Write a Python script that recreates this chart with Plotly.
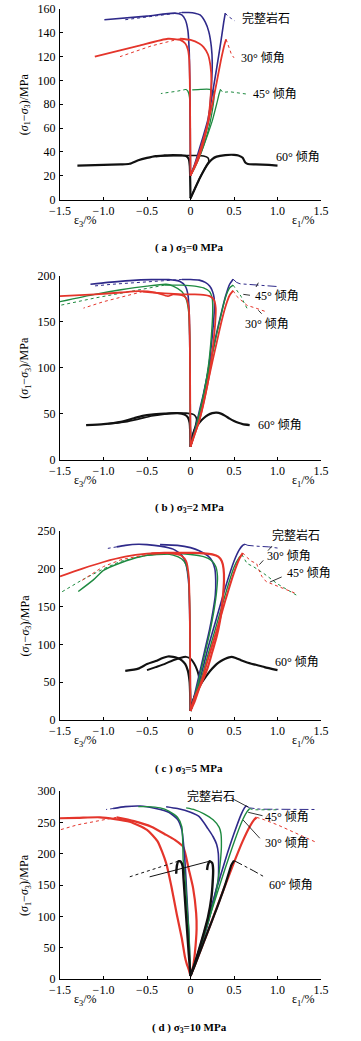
import plotly.graph_objects as go

# ---------------- data: panel (a) sigma3 = 0 MPa ----------------
A_INT_E1_X = [0, 0.05, 0.1, 0.15, 0.2, 0.25, 0.3, 0.35, 0.38, 0.4]
A_INT_E1_Y = [20, 30, 42, 54, 67, 88, 110, 133, 148, 156.5]
A_INT_E1T_X = [0.4, 0.43, 0.47, 0.51]
A_INT_E1T_Y = [156.5, 154, 152, 150]
A_INT_E3_X = [0, -0.003, -0.008, -0.015, -0.03, -0.06, -0.1, -0.18, -0.5, -0.99]
A_INT_E3_Y = [20, 60, 100, 125, 142, 151, 155, 156.5, 154, 151]
A_INT_EV_X = [0, 0.1, 0.17, 0.21, 0.24, 0.25, 0.24, 0.21, 0.17, 0.11, 0.05, -0.02, -0.1]
A_INT_EV_Y = [20, 38, 55, 67, 95, 115, 128, 141, 149, 155, 156.5, 157, 157]
A_INT_EVT_X = [-0.1, -0.4, -0.75]
A_INT_EVT_Y = [157, 154.5, 151]

A_R30_E1_X = [0, 0.05, 0.1, 0.15, 0.2, 0.25, 0.3, 0.35, 0.39, 0.41]
A_R30_E1_Y = [20, 29, 39, 51, 64, 80, 98, 117, 130, 134.5]
A_R30_E1T_X = [0.41, 0.44, 0.47, 0.5]
A_R30_E1T_Y = [134.5, 128, 122, 119]
A_R30_E3_X = [0, -0.003, -0.008, -0.015, -0.03, -0.06, -0.12, -0.26, -0.6, -1.1]
A_R30_E3_Y = [20, 60, 100, 118, 126, 131, 134, 135, 129, 120]
A_R30_EV_X = [0, 0.08, 0.15, 0.2, 0.23, 0.24, 0.23, 0.2, 0.15, 0.1, 0.0, -0.12]
A_R30_EV_Y = [20, 32, 48, 65, 85, 100, 112, 122, 128, 131, 134, 135]
A_R30_EVT_X = [-0.12, -0.45, -0.81]
A_R30_EVT_Y = [135, 129, 120]

A_G45_E1_X = [0, 0.05, 0.1, 0.15, 0.2, 0.25, 0.3, 0.33, 0.345]
A_G45_E1_Y = [20, 28, 36, 45, 55, 66, 80, 89, 92.5]
A_G45_E1T_X = [0.345, 0.37, 0.45, 0.55, 0.65]
A_G45_E1T_Y = [92.5, 90, 90.5, 89.5, 88.5]
A_G45_E3_X = [0, -0.002, -0.005, -0.012, -0.03, -0.05]
A_G45_E3_Y = [20, 50, 75, 86, 91, 92.5]
A_G45_E3T_X = [-0.05, -0.15, -0.34]
A_G45_E3T_Y = [92.5, 91, 89]
A_G45_EV_X = [0, 0.05, 0.1, 0.15, 0.2, 0.24, 0.27, 0.26, 0.22, 0.12, 0.02]
A_G45_EV_Y = [20, 27, 35, 45, 57, 70, 86, 91, 92.5, 92.5, 92]

A_B60_E1_X = [0, 0.05, 0.1, 0.15, 0.2, 0.25, 0.3, 0.4, 0.5, 0.55, 0.6, 0.63, 0.66, 0.75, 0.9, 1.0]
A_B60_E1_Y = [1, 9, 17, 24, 30, 34, 36, 37.3, 37.5, 37, 35, 31, 29.8, 29.5, 29, 28.5]
A_B60_E3_X = [0, -0.003, -0.008, -0.02, -0.05, -0.1, -0.2, -0.3, -0.4, -0.5, -0.6, -0.7, -0.8, -1.0, -1.3]
A_B60_E3_Y = [1, 15, 28, 34, 36.5, 37, 37.3, 37, 36.5, 35, 33, 30, 29.5, 29, 28.5]
A_B60_EV_X = [0, 0.05, 0.1, 0.15, 0.19, 0.21, 0.2, 0.15, 0.08, 0, -0.1, -0.25, -0.4]
A_B60_EV_Y = [1, 9, 17, 24, 29, 32, 35, 36.5, 37, 37, 37, 36.8, 36]

# ---------------- data: panel (b) sigma3 = 2 MPa ----------------
B_INT_E1_X = [0, 0.05, 0.1, 0.15, 0.2, 0.25, 0.3, 0.35, 0.4, 0.45, 0.49]
B_INT_E1_Y = [14, 32, 52, 72, 95, 117, 138, 158, 177, 191, 196.5]
B_INT_E1T_X = [0.49, 0.53, 0.57, 0.7, 0.85, 1.0]
B_INT_E1T_Y = [196.5, 193, 191.5, 190.5, 189.5, 188.5]
B_INT_E3_X = [0, -0.003, -0.008, -0.015, -0.03, -0.06, -0.12, -0.25, -0.45, -0.7, -0.95, -1.15]
B_INT_E3_Y = [14, 60, 120, 160, 180, 189, 194, 196, 196, 195, 193, 191]
B_INT_EV_X = [0, 0.08, 0.15, 0.2, 0.24, 0.265, 0.275, 0.27, 0.25, 0.22, 0.17, 0.1, 0.0, -0.1]
B_INT_EV_Y = [14, 40, 70, 95, 125, 150, 165, 177, 184, 189, 193, 195.5, 196.2, 196.2]
B_INT_EVT_X = [-0.1, -0.5, -0.9, -1.12]
B_INT_EVT_Y = [196.2, 194, 191, 189]

B_R30_E1_X = [0, 0.05, 0.1, 0.15, 0.2, 0.25, 0.3, 0.35, 0.4, 0.45, 0.49]
B_R30_E1_Y = [14, 28, 42, 62, 84, 106, 127, 148, 166, 179, 184]
B_R30_E1T_X = [0.49, 0.53, 0.6, 0.65, 0.75, 0.87]
B_R30_E1T_Y = [184, 178, 172, 168, 165, 161]
B_R30_E3_X = [0, -0.003, -0.008, -0.02, -0.05, -0.1, -0.2, -0.26, -0.4, -0.6, -0.8, -1.1, -1.5]
B_R30_E3_Y = [14, 60, 130, 165, 176, 179, 180, 178, 182, 183.5, 182, 180, 178]
B_R30_EV_X = [0, 0.05, 0.1, 0.16, 0.22, 0.26, 0.285, 0.29, 0.27, 0.22, 0.15, 0.05, -0.1, -0.3, -0.55]
B_R30_EV_Y = [14, 28, 42, 65, 95, 125, 150, 165, 174, 178, 179.5, 180, 180, 181, 183]
B_R30_EVT_X = [-0.55, -0.8, -1.0, -1.23]
B_R30_EVT_Y = [183, 177, 172, 165]

B_G45_E1_X = [0, 0.05, 0.1, 0.15, 0.2, 0.25, 0.3, 0.35, 0.4, 0.45, 0.49]
B_G45_E1_Y = [14, 30, 50, 70, 92, 114, 136, 157, 176, 187, 190]
B_G45_E1T_X = [0.49, 0.53, 0.58, 0.62, 0.66]
B_G45_E1T_Y = [190, 184, 178, 170, 163]
B_G45_E3_X = [0, -0.003, -0.008, -0.02, -0.05, -0.1, -0.2, -0.28, -0.5, -0.8, -1.1, -1.5]
B_G45_E3_Y = [14, 60, 130, 160, 175, 183, 189, 191, 189, 185, 180, 172]
B_G45_EV_X = [0, 0.05, 0.1, 0.16, 0.21, 0.24, 0.255, 0.25, 0.22, 0.15, 0.05, -0.1, -0.3]
B_G45_EV_Y = [14, 30, 48, 75, 105, 135, 160, 175, 183, 187, 189, 190, 190]
B_G45_EVT_X = [-0.3, -0.7, -1.1, -1.5]
B_G45_EVT_Y = [190, 183, 176, 168]

B_B60_E1_X = [0, 0.02, 0.05, 0.1, 0.15, 0.2, 0.25, 0.3, 0.35, 0.4, 0.45, 0.5, 0.55, 0.6, 0.68]
B_B60_E1_Y = [14, 24, 33, 40, 45, 48.5, 50.5, 51, 50, 47.5, 44.5, 42, 40, 38.5, 37.5]
B_B60_E3_X = [0, -0.003, -0.01, -0.03, -0.07, -0.15, -0.3, -0.45, -0.55, -0.65, -0.8, -1.0, -1.2]
B_B60_E3_Y = [14, 28, 40, 46, 49, 50.5, 50, 49, 47.5, 45, 41, 38.5, 37.5]
B_B60_EV_X = [0, 0.03, 0.06, 0.07, 0.05, 0.02, -0.05, -0.15, -0.3, -0.45, -0.6, -0.75, -0.95]
B_B60_EV_Y = [14, 28, 38, 44, 48, 49.5, 50.5, 50.5, 49.5, 47.5, 44, 41, 39]

# ---------------- data: panel (c) sigma3 = 5 MPa ----------------
C_INT_E1_X = [0, 0.05, 0.1, 0.15, 0.2, 0.3, 0.4, 0.5, 0.56, 0.6, 0.625]
C_INT_E1_Y = [12, 30, 50, 72, 95, 135, 175, 210, 225, 231, 232.5]
C_INT_E1T_X = [0.625, 0.66, 0.75, 0.9, 1.03]
C_INT_E1T_Y = [232.5, 231, 230, 229, 227]
C_INT_E3_X = [0, -0.003, -0.008, -0.02, -0.05, -0.1, -0.2, -0.35, -0.5, -0.6, -0.75, -0.85]
C_INT_E3_Y = [12, 60, 130, 180, 205, 218, 226, 230, 232, 232.5, 231, 229]
C_INT_E3T_X = [-0.85, -0.95]
C_INT_E3T_Y = [229, 227]
C_INT_EV_X = [0, 0.05, 0.1, 0.16, 0.22, 0.26, 0.285, 0.29, 0.28, 0.25, 0.2, 0.1, 0, -0.15, -0.35]
C_INT_EV_Y = [12, 35, 60, 90, 120, 145, 165, 185, 200, 210, 217, 224, 228, 231, 232]

C_R30_E1_X = [0, 0.05, 0.1, 0.15, 0.2, 0.3, 0.4, 0.5, 0.56, 0.6]
C_R30_E1_Y = [12, 25, 42, 60, 80, 118, 158, 195, 213, 221]
C_R30_E1T_X = [0.6, 0.64, 0.7, 0.76, 0.78, 0.82, 0.87, 1.0, 1.22]
C_R30_E1T_Y = [221, 216, 210, 207, 200, 190, 183, 177, 167]
C_R30_E3_X = [0, -0.003, -0.008, -0.02, -0.05, -0.1, -0.2, -0.35, -0.5, -0.75, -1.0, -1.25, -1.5]
C_R30_E3_Y = [12, 60, 140, 190, 210, 217, 220, 221, 220, 216, 209, 200, 190]
C_R30_EV_X = [0, 0.05, 0.13, 0.2, 0.25, 0.3, 0.34, 0.37, 0.385, 0.38, 0.36, 0.32, 0.25, 0.15, 0.05, -0.1, -0.3, -0.45]
C_R30_EV_Y = [12, 30, 50, 70, 90, 110, 132, 160, 185, 200, 210, 216, 219, 220.5, 221, 221, 221, 220]
C_R30_EVT_X = [-0.45, -0.8, -1.0, -1.27]
C_R30_EVT_Y = [220, 212, 203, 183]

C_G45_E1_X = [0, 0.05, 0.1, 0.15, 0.2, 0.3, 0.4, 0.5, 0.56, 0.59]
C_G45_E1_Y = [12, 28, 46, 65, 86, 126, 166, 202, 215, 219]
C_G45_E1T_X = [0.59, 0.62, 0.65, 0.72, 0.84, 1.0, 1.22]
C_G45_E1T_Y = [219, 213, 207, 203, 194, 180, 165]
C_G45_E3_X = [0, -0.003, -0.008, -0.02, -0.05, -0.1, -0.2, -0.35, -0.58, -0.8, -1.0, -1.12, -1.29]
C_G45_E3_Y = [12, 60, 140, 185, 205, 213, 218, 220, 216, 208, 198, 185, 170]
C_G45_EV_X = [0, 0.05, 0.1, 0.16, 0.22, 0.27, 0.3, 0.31, 0.29, 0.24, 0.15, 0.0, -0.2, -0.5]
C_G45_EV_Y = [12, 32, 55, 85, 115, 145, 170, 190, 203, 211, 216, 219, 220, 218]
C_G45_EVT_X = [-0.5, -0.8, -1.0, -1.25, -1.5]
C_G45_EVT_Y = [218, 210, 200, 185, 168]

C_B60_E1_X = [0, 0.02, 0.05, 0.1, 0.15, 0.2, 0.25, 0.3, 0.35, 0.4, 0.47, 0.52, 0.58, 0.65, 0.75, 0.85, 1.0]
C_B60_E1_Y = [12, 22, 32, 44, 53, 61, 68, 74, 78, 81, 83.5, 82, 79, 76, 73, 70, 66]
C_B60_E3_X = [0, -0.003, -0.01, -0.03, -0.06, -0.1, -0.15, -0.2, -0.26, -0.32, -0.4, -0.5, -0.6, -0.75]
C_B60_E3_Y = [12, 30, 50, 65, 74, 79, 82, 83.5, 84, 82, 78, 74, 68, 65]
C_B60_EV_X = [0, 0.03, 0.07, 0.1, 0.1, 0.08, 0.04, 0, -0.05, -0.12, -0.2, -0.3, -0.4, -0.5]
C_B60_EV_Y = [12, 25, 38, 46, 55, 65, 75, 81, 83.5, 82, 79, 74, 70, 66]

# ---------------- data: panel (d) sigma3 = 10 MPa ----------------
D_INT_E1_X = [0, 0.05, 0.1, 0.15, 0.2, 0.3, 0.4, 0.5, 0.58, 0.62, 0.64]
D_INT_E1_Y = [5, 25, 48, 72, 96, 144, 190, 232, 262, 273, 276.5]
D_INT_E1T_X = [0.64, 0.68, 0.8, 1.0, 1.2, 1.43]
D_INT_E1T_Y = [276.5, 273, 271, 271, 270.5, 270.5]
D_INT_E3_X = [0, -0.01, -0.025, -0.045, -0.06, -0.08, -0.1, -0.15, -0.25, -0.4, -0.58, -0.75, -0.89]
D_INT_E3_Y = [5, 40, 90, 140, 180, 215, 238, 255, 266, 272, 276, 275, 272]
D_INT_E3T_X = [-0.89, -0.97]
D_INT_E3T_Y = [272, 270.5]
D_INT_EV_X = [0, 0.06, 0.12, 0.18, 0.24, 0.29, 0.32, 0.32, 0.3, 0.26, 0.2, 0.1, 0, -0.15, -0.28]
D_INT_EV_Y = [5, 30, 55, 78, 110, 140, 160, 200, 215, 227, 240, 259, 266, 272, 275]

D_G45_E1_X = [0, 0.05, 0.1, 0.15, 0.2, 0.3, 0.4, 0.5, 0.6, 0.65, 0.68]
D_G45_E1_Y = [5, 24, 46, 68, 90, 134, 177, 218, 254, 267, 272]
D_G45_E1T_X = [0.68, 0.72, 0.85, 1.0]
D_G45_E1T_Y = [272, 270, 270, 270]
D_G45_E3_X = [0, -0.008, -0.02, -0.035, -0.046, -0.06, -0.075, -0.084, -0.1, -0.15, -0.25, -0.35, -0.5, -0.6]
D_G45_E3_Y = [5, 40, 80, 105, 130, 160, 180, 190, 243, 258, 268, 273, 275, 275]
D_G45_EV_X = [0, 0.06, 0.12, 0.18, 0.24, 0.29, 0.32, 0.345, 0.355, 0.35, 0.33, 0.26, 0.15, 0.05, -0.05]
D_G45_EV_Y = [5, 30, 55, 80, 110, 135, 160, 190, 211, 232, 242, 254, 264, 270, 273]

D_R30_E1_X = [0, 0.05, 0.1, 0.2, 0.3, 0.4, 0.5, 0.6, 0.68, 0.73, 0.76]
D_R30_E1_Y = [5, 22, 40, 76, 113, 150, 186, 220, 243, 254, 258]
D_R30_E1T_X = [0.76, 0.85, 1.0, 1.2, 1.43]
D_R30_E1T_Y = [258, 254, 246, 233, 219]
D_R30_E3_X = [0, -0.02, -0.045, -0.065, -0.1, -0.16, -0.22, -0.28, -0.38, -0.5, -0.7, -1.04, -1.3, -1.5]
D_R30_E3_Y = [5, 15, 25, 36, 65, 105, 148, 185, 220, 238, 251, 258, 257, 256.5]
D_R30_EV_X = [0, 0.03, 0.05, 0.07, 0.065, 0.03, -0.02, -0.084, -0.18, -0.28, -0.45, -0.65, -0.85]
D_R30_EV_Y = [5, 20, 41, 80, 105, 145, 175, 211, 222, 230, 243, 252, 258]
D_R30_EVT_X = [-0.85, -1.1, -1.3, -1.5]
D_R30_EVT_Y = [258, 252, 246, 238]

D_B60_E1_X = [0, 0.05, 0.1, 0.15, 0.2, 0.25, 0.3, 0.35, 0.4, 0.44, 0.47, 0.5]
D_B60_E1_Y = [5, 22, 40, 58, 76, 94, 112, 131, 151, 169, 182, 189]
D_B60_E1T_X = [0.5, 0.6, 0.72, 0.835]
D_B60_E1T_Y = [189, 182, 173, 164]
D_B60_E3_X = [0, -0.02, -0.045, -0.065, -0.08, -0.09, -0.11, -0.14, -0.155, -0.165]
D_B60_E3_Y = [5, 40, 90, 130, 160, 180, 187, 188, 182, 168]
D_B60_E3T_X = [-0.14, -0.4, -0.7]
D_B60_E3T_Y = [188, 176, 163]
D_B60_EV_X = [0, 0.05, 0.1, 0.15, 0.2, 0.24, 0.255, 0.26, 0.25, 0.22, 0.2, 0.19]
D_B60_EV_Y = [5, 25, 48, 72, 98, 130, 155, 175, 185, 188, 182, 174]
D_B60_EVT_X = [0.22, -0.47]
D_B60_EVT_Y = [188, 163]

# ---------------- text ----------------
X_TICKS = [-1.5, -1.0, -0.5, 0, 0.5, 1.0, 1.5]
X_TICK_TEXT = ["\u22121.5", "\u22121.0", "\u22120.5", "0", "0.5", "1.0", "1.5"]
CAPTIONS = ["( a ) \u03c3<sub>3</sub>=0 MPa", "( b ) \u03c3<sub>3</sub>=2 MPa",
            "( c ) \u03c3<sub>3</sub>=5 MPa", "( d ) \u03c3<sub>3</sub>=10 MPa"]
Y_MAX = [160, 200, 250, 300]
Y_DTICK = [20, 50, 50, 50]
LBL_INTACT = "完整岩石"
LBL_30 = "30° 倾角"
LBL_45 = "45° 倾角"
LBL_60 = "60° 倾角"

BLUE = "#2f2a8a"
RED = "#e4352b"
GREEN = "#1e8a40"
BLACK = "#111111"

W, H = 361, 1041
XL, XR = 60, 321
PANEL_PX = [(9, 199.5), (276, 459.5), (531, 720), (791, 979)]
SERIF = "Liberation Serif, Times New Roman, Noto Sans CJK SC, serif"

fig = go.Figure()


def line(xs, ys, color, width, k, dash="solid", spline=True):
    fig.add_trace(go.Scatter(
        x=xs, y=ys, mode="lines",
        line=dict(color=color, width=width, dash=dash,
                  shape="spline" if spline else "linear", smoothing=0.6),
        xaxis="x" if k == 1 else f"x{k}", yaxis="y" if k == 1 else f"y{k}",
        showlegend=False, hoverinfo="skip"))


panels = [
    [  # (a)
        (A_B60_E1_X, A_B60_E1_Y, BLACK, 2.2, "solid"), (A_B60_E3_X, A_B60_E3_Y, BLACK, 2.2, "solid"),
        (A_B60_EV_X, A_B60_EV_Y, BLACK, 1.6, "solid"),
        (A_G45_E1_X, A_G45_E1_Y, GREEN, 1.3, "solid"), (A_G45_E1T_X, A_G45_E1T_Y, GREEN, 1, "dot"),
        (A_G45_E3_X, A_G45_E3_Y, GREEN, 1.3, "solid"), (A_G45_E3T_X, A_G45_E3T_Y, GREEN, 1, "dot"),
        (A_G45_EV_X, A_G45_EV_Y, GREEN, 1.3, "solid"),
        (A_INT_E1_X, A_INT_E1_Y, BLUE, 1.6, "solid"), (A_INT_E1T_X, A_INT_E1T_Y, BLUE, 1, "dot"),
        (A_INT_E3_X, A_INT_E3_Y, BLUE, 1.6, "solid"), (A_INT_EV_X, A_INT_EV_Y, BLUE, 1.6, "solid"),
        (A_INT_EVT_X, A_INT_EVT_Y, BLUE, 1, "dot"),
        (A_R30_E1_X, A_R30_E1_Y, RED, 1.8, "solid"), (A_R30_E1T_X, A_R30_E1T_Y, RED, 1, "dot"),
        (A_R30_E3_X, A_R30_E3_Y, RED, 1.8, "solid"), (A_R30_EV_X, A_R30_EV_Y, RED, 1.8, "solid"),
        (A_R30_EVT_X, A_R30_EVT_Y, RED, 1, "dot"),
    ],
    [  # (b)
        (B_B60_E1_X, B_B60_E1_Y, BLACK, 2.2, "solid"), (B_B60_E3_X, B_B60_E3_Y, BLACK, 2.2, "solid"),
        (B_B60_EV_X, B_B60_EV_Y, BLACK, 1.6, "solid"),
        (B_INT_E1_X, B_INT_E1_Y, BLUE, 1.6, "solid"), (B_INT_E1T_X, B_INT_E1T_Y, BLUE, 1, "dashdot"),
        (B_INT_E3_X, B_INT_E3_Y, BLUE, 1.6, "solid"), (B_INT_EV_X, B_INT_EV_Y, BLUE, 1.6, "solid"),
        (B_INT_EVT_X, B_INT_EVT_Y, BLUE, 1, "dot"),
        (B_G45_E1_X, B_G45_E1_Y, GREEN, 1.4, "solid"), (B_G45_E1T_X, B_G45_E1T_Y, GREEN, 1, "dot"),
        (B_G45_E3_X, B_G45_E3_Y, GREEN, 1.4, "solid"), (B_G45_EV_X, B_G45_EV_Y, GREEN, 1.4, "solid"),
        (B_G45_EVT_X, B_G45_EVT_Y, GREEN, 1, "dot"),
        (B_R30_E1_X, B_R30_E1_Y, RED, 1.8, "solid"), (B_R30_E1T_X, B_R30_E1T_Y, RED, 1, "dot"),
        (B_R30_E3_X, B_R30_E3_Y, RED, 1.8, "solid"), (B_R30_EV_X, B_R30_EV_Y, RED, 1.8, "solid"),
        (B_R30_EVT_X, B_R30_EVT_Y, RED, 1, "dot"),
    ],
    [  # (c)
        (C_B60_E1_X, C_B60_E1_Y, BLACK, 2.2, "solid"), (C_B60_E3_X, C_B60_E3_Y, BLACK, 2.2, "solid"),
        (C_B60_EV_X, C_B60_EV_Y, BLACK, 2.0, "solid"),
        (C_INT_E1_X, C_INT_E1_Y, BLUE, 1.6, "solid"), (C_INT_E1T_X, C_INT_E1T_Y, BLUE, 1, "dashdot"),
        (C_INT_E3_X, C_INT_E3_Y, BLUE, 1.6, "solid"), (C_INT_E3T_X, C_INT_E3T_Y, BLUE, 1, "dot"),
        (C_INT_EV_X, C_INT_EV_Y, BLUE, 1.6, "solid"),
        (C_G45_E1_X, C_G45_E1_Y, GREEN, 1.4, "solid"), (C_G45_E1T_X, C_G45_E1T_Y, GREEN, 1, "dot"),
        (C_G45_E3_X, C_G45_E3_Y, GREEN, 1.4, "solid"), (C_G45_EV_X, C_G45_EV_Y, GREEN, 1.4, "solid"),
        (C_G45_EVT_X, C_G45_EVT_Y, GREEN, 1, "dot"),
        (C_R30_E1_X, C_R30_E1_Y, RED, 2.0, "solid"), (C_R30_E1T_X, C_R30_E1T_Y, RED, 1, "dot"),
        (C_R30_E3_X, C_R30_E3_Y, RED, 1.8, "solid"), (C_R30_EV_X, C_R30_EV_Y, RED, 2.2, "solid"),
        (C_R30_EVT_X, C_R30_EVT_Y, RED, 1, "dot"),
    ],
    [  # (d)
        (D_R30_E1_X, D_R30_E1_Y, RED, 2.2, "solid"), (D_R30_E1T_X, D_R30_E1T_Y, RED, 1, "dot"),
        (D_R30_E3_X, D_R30_E3_Y, RED, 2.2, "solid"), (D_R30_EV_X, D_R30_EV_Y, RED, 2.2, "solid"),
        (D_R30_EVT_X, D_R30_EVT_Y, RED, 1, "dot"),
        (D_INT_E1_X, D_INT_E1_Y, BLUE, 1.6, "solid"), (D_INT_E1T_X, D_INT_E1T_Y, BLUE, 1, "dashdot"),
        (D_INT_E3_X, D_INT_E3_Y, BLUE, 1.6, "solid"), (D_INT_E3T_X, D_INT_E3T_Y, BLUE, 1, "dot"),
        (D_INT_EV_X, D_INT_EV_Y, BLUE, 1.6, "solid"),
        (D_G45_E1_X, D_G45_E1_Y, GREEN, 1.4, "solid"), (D_G45_E1T_X, D_G45_E1T_Y, GREEN, 1, "dot"),
        (D_G45_E3_X, D_G45_E3_Y, GREEN, 1.4, "solid"), (D_G45_EV_X, D_G45_EV_Y, GREEN, 1.4, "solid"),
        (D_B60_E1_X, D_B60_E1_Y, BLACK, 2.2, "solid"), (D_B60_E1T_X, D_B60_E1T_Y, BLACK, 1, "dashdot"),
        (D_B60_E3_X, D_B60_E3_Y, BLACK, 2.4, "solid"), (D_B60_E3T_X, D_B60_E3T_Y, BLACK, 1, "dot"),
        (D_B60_EV_X, D_B60_EV_Y, BLACK, 2.4, "solid"), (D_B60_EVT_X, D_B60_EVT_Y, BLACK, 1, "solid"),
    ],
]

for k, curves in enumerate(panels, start=1):
    for xs, ys, c, w, d in curves:
        line(xs, ys, c, w, k, d, spline=(d == "solid" and len(xs) > 2))

axis_common = dict(showline=True, linecolor="black", linewidth=1, ticks="inside", ticklen=3,
                   tickwidth=1, tickcolor="black", showgrid=False, zeroline=False,
                   automargin=False,
                   tickfont=dict(family=SERIF, size=12, color="black"))

layout = dict(width=W, height=H, margin=dict(l=0, r=0, t=0, b=0, autoexpand=False),
              paper_bgcolor="white", plot_bgcolor="white", showlegend=False)
annotations = []
for i, (top, bot) in enumerate(PANEL_PX):
    k = i + 1
    sx = "" if k == 1 else str(k)
    layout["xaxis" + sx] = dict(axis_common, domain=[XL / W, XR / W], range=[-1.5, 1.5],
                                tickvals=X_TICKS, ticktext=X_TICK_TEXT, anchor="y" + sx)
    layout["yaxis" + sx] = dict(axis_common, domain=[1 - bot / H, 1 - top / H],
                                range=[0, Y_MAX[i]], dtick=Y_DTICK[i], anchor="x" + sx,
                                ticklabelstandoff=1)
    yc = (top + bot) / 2
    annotations.append(dict(xref="paper", yref="paper", x=25 / W, y=1 - yc / H,
                            xanchor="center", yanchor="middle",
                            text="(<i>\u03c3</i><sub>1</sub>\u2212<i>\u03c3</i><sub>3</sub>)/MPa",
                            textangle=-90, showarrow=False,
                            font=dict(family=SERIF, size=12, color="black")))
    annotations.append(dict(xref="paper", yref="paper", x=72 / W, y=1 - (bot + 21) / H,
                            xanchor="left", yanchor="middle", text="\u03b5<sub>3</sub>/%",
                            showarrow=False, font=dict(family=SERIF, size=12, color="black")))
    annotations.append(dict(xref="paper", yref="paper", x=290 / W, y=1 - (bot + 21) / H,
                            xanchor="left", yanchor="middle", text="\u03b5<sub>1</sub>/%",
                            showarrow=False, font=dict(family=SERIF, size=12, color="black")))
    annotations.append(dict(xref="paper", yref="paper", x=189 / W, y=1 - (bot + 48.5) / H,
                            xanchor="center", yanchor="middle",
                            text="<b>" + CAPTIONS[i] + "</b>", showarrow=False,
                            font=dict(family=SERIF, size=11, color="black")))

LABELS = [
    [(LBL_INTACT, 0.57, 152), (LBL_30, 0.557, 119), (LBL_45, 0.695, 88.6), (LBL_60, 0.96, 35.7)],
    [(LBL_INTACT, 0.703, 206.5), (LBL_45, 0.722, 178.2), (LBL_30, 0.60, 147.7), (LBL_60, 0.753, 37.6)],
    [(LBL_INTACT, 0.914, 244.7), (LBL_30, 0.856, 216.9), (LBL_45, 1.086, 194), (LBL_60, 0.952, 76.3)],
    [(LBL_INTACT, -0.063, 290.9), (LBL_45, 0.837, 259), (LBL_30, 0.837, 216.5), (LBL_60, 0.876, 150)],
]
for i, labs in enumerate(LABELS):
    sx = "" if i == 0 else str(i + 1)
    for t, x, y in labs:
        annotations.append(dict(xref="x" + sx, yref="y" + sx, x=x, y=y, xanchor="left",
                                yanchor="middle", text=t, showarrow=False,
                                font=dict(family=SERIF, size=12, color="black")))

LEADERS = [
    (2, 0.78, 192.7, 0.753, 188), (2, 0.607, 180, 0.684, 179), (2, 0.78, 162.6, 0.818, 158.9),
    (3, 0.791, 205.4, 0.837, 211.2), (3, 0.914, 182.5, 1.048, 189.2), (3, 0.937, 230, 0.89, 224),
    (4, 0.47, 288.6, 0.663, 274.3), (4, 0.663, 266, 0.828, 260.6), (4, 0.605, 253.7, 0.797, 224.5),
]
shapes = []
for k, x0, y0, x1, y1 in LEADERS:
    shapes.append(dict(type="line", xref=f"x{k}", yref=f"y{k}", x0=x0, y0=y0, x1=x1, y1=y1,
                       line=dict(color="black", width=0.8)))

layout["annotations"] = annotations
layout["shapes"] = shapes
fig.update_layout(**layout)
fig.write_html("out.html", config={"displayModeBar": False, "staticPlot": True},
               post_script="document.body.style.margin='0';document.body.style.padding='0';"
                           "document.body.style.overflow='hidden';")
